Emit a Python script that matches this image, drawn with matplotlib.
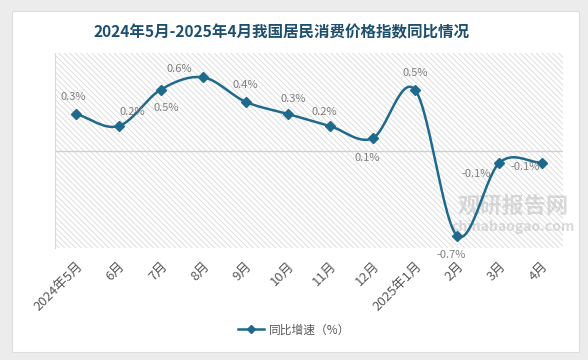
import numpy as np
import matplotlib.pyplot as plt
from matplotlib.patches import Rectangle
from matplotlib.lines import Line2D

plt.rcParams['font.family'] = ['Noto Sans CJK SC', 'DejaVu Sans']
plt.rcParams['hatch.linewidth'] = 0.6

months = ["2024年5月", "6月", "7月", "8月", "9月", "10月", "11月", "12月",
          "2025年1月", "2月", "3月", "4月"]
cpi_yoy = [0.3, 0.2, 0.5, 0.6, 0.4, 0.3, 0.2, 0.1, 0.5, -0.7, -0.1, -0.1]
# label offsets in points (dx, dy) per point
label_offsets = [(-2, 12), (10, 10), (4, -13), (-17, 6), (0, 12), (4, 11),
                 (-4, 10), (-4, -14), (0, 12), (-4, -14), (-17, -8), (-12, -3)]

line_color = "#1f6a8c"


def catmull_rom(x, y, n=30):
    x = np.asarray(x, float)
    y = np.asarray(y, float)
    px = np.concatenate([[2 * x[0] - x[1]], x, [2 * x[-1] - x[-2]]])
    py = np.concatenate([[2 * y[0] - y[1]], y, [2 * y[-1] - y[-2]]])
    xs, ys = [], []
    t = np.linspace(0, 1, n)
    for i in range(1, len(px) - 2):
        for p, out in ((px, xs), (py, ys)):
            p0, p1, p2, p3 = p[i - 1], p[i], p[i + 1], p[i + 2]
            out.append(0.5 * (2 * p1 + (-p0 + p2) * t
                              + (2 * p0 - 5 * p1 + 4 * p2 - p3) * t ** 2
                              + (-p0 + 3 * p1 - 3 * p2 + p3) * t ** 3))
    return np.concatenate(xs), np.concatenate(ys)


fig = plt.figure(figsize=(5.88, 3.60), dpi=100, facecolor="#ececec")
# white card
fig.patches.append(Rectangle((12 / 588, 8 / 360), 567 / 588, 341 / 360,
                             transform=fig.transFigure, facecolor="white",
                             edgecolor="#dddddd", linewidth=0.8, zorder=-5))

ax = fig.add_axes([55 / 588, 112 / 360, 508 / 588, 195 / 360])
ax.set_facecolor("white")
ax.add_patch(Rectangle((0, 0), 1, 1, transform=ax.transAxes, facecolor="none",
                       edgecolor="#d9d9d9", hatch="\\\\\\\\\\\\", linewidth=0, zorder=0))

x = np.arange(len(months))
sx, sy = catmull_rom(x, cpi_yoy)
ax.plot(sx, sy, color=line_color, linewidth=1.8, zorder=3)
ax.plot(x, cpi_yoy, linestyle="none", marker="D", markersize=5.5,
        color=line_color, zorder=4)
ax.axhline(0, color="#d0d0d0", linewidth=1, zorder=2)

for xi, v, (dx, dy) in zip(x, cpi_yoy, label_offsets):
    ax.annotate(f"{v:.1f}%", (xi, v), xytext=(dx, dy), textcoords="offset points",
                ha="center", va="center", fontsize=8, color="#7f7f7f", zorder=5)

ax.set_xlim(-0.5, len(months) - 0.5)
ax.set_ylim(-0.8, 0.8)
ax.set_yticks([])
ax.set_xticks(x)
ax.set_xticklabels(months, rotation=45, ha="right", rotation_mode="anchor",
                   fontsize=9.5, color="#595959")
ax.tick_params(axis="x", length=0, pad=8)
for s in ["top", "right", "bottom"]:
    ax.spines[s].set_visible(False)
ax.spines["left"].set_color("#d9d9d9")

# watermark (behind the line)
ax.text(513 / 588, 1 - 207 / 360, "观研报告网", transform=fig.transFigure, fontsize=16,
        fontweight="bold", color="#bdbdbd", alpha=0.55, ha="center", va="center", zorder=1)
ax.text(513 / 588, 1 - 227 / 360, "chinabaogao.com", transform=fig.transFigure,
        fontsize=10, fontweight="bold", color="#bdbdbd", alpha=0.55,
        ha="center", va="center", zorder=1)

fig.text(282 / 588, 1 - 32 / 360, "2024年5月-2025年4月我国居民消费价格指数同比情况",
         fontsize=11.2, fontweight="bold", color="#1d4f6e", ha="center", va="center")

handle = Line2D([], [], color=line_color, marker="D", markersize=4, linewidth=1.8)
fig.legend([handle], ["同比增速（%）"], loc="center", bbox_to_anchor=(0.5, 1 - 330 / 360),
           frameon=False, fontsize=8.5, labelcolor="#595959", handlelength=2.2,
           handletextpad=0.4)

fig.savefig("out.png", dpi=100, facecolor=fig.get_facecolor())
